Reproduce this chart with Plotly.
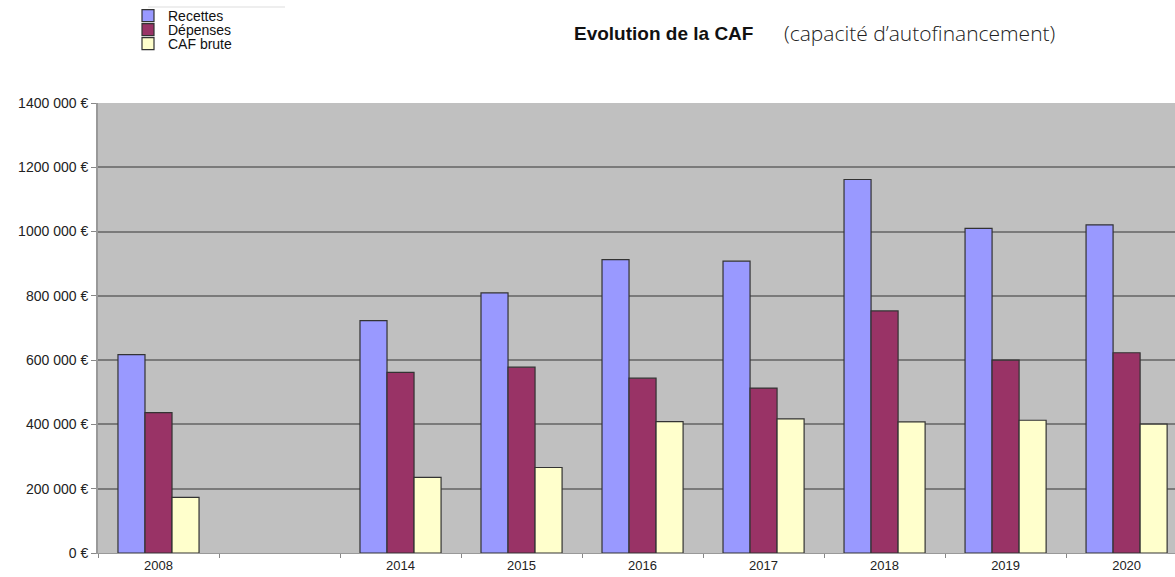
import plotly.graph_objects as go

years = ["2008", " ", "2014", "2015", "2016", "2017", "2018", "2019", "2020"]
recettes = [617000, None, 723000, 809000, 913000, 908000, 1162000, 1010000, 1021000]
depenses = [437000, None, 562000, 578000, 544000, 513000, 753000, 600000, 623000]
caf_brute = [173000, None, 235000, 266000, 409000, 417000, 408000, 413000, 401000]

y_tickvals = [0, 200000, 400000, 600000, 800000, 1000000, 1200000, 1400000]
y_ticktext = ["0 €", "200 000 €", "400 000 €", "600 000 €", "800 000 €",
              "1000 000 €", "1200 000 €", "1400 000 €"]

series_names = ["Recettes", "Dépenses", "CAF brute"]
series_colors = ["#9999FF", "#993366", "#FFFFCC"]

fig = go.Figure()
for i, (name, vals, col) in enumerate(zip(series_names, [recettes, depenses, caf_brute], series_colors)):
    fig.add_trace(go.Bar(
        x=years, y=vals, name=name, showlegend=True,
        marker=dict(color=col, line=dict(color="#333333", width=1.2)),
        legend="legend" if i == 0 else f"legend{i+1}",
    ))

W, H = 1175, 577
L, T, B = 98, 103, 24
PW, PH = W - L, H - T - B

legend_common = dict(font=dict(family="Liberation Sans, Arial", size=14, color="#111111"),
                     bgcolor="rgba(0,0,0,0)", itemwidth=30, xanchor="left", yanchor="middle",
                     xref="paper", yref="container", visible=True)
lx = 30 / PW

fig.update_layout(
    width=W, height=H,
    margin=dict(l=L, r=0, t=T, b=B, autoexpand=False),
    paper_bgcolor="white",
    plot_bgcolor="#C0C0C0",
    showlegend=True,
    barmode="group",
    bargap=0.33,
    bargroupgap=0,
    legend=dict(x=lx, y=1 - 16 / H, **legend_common),
    legend2=dict(x=lx, y=1 - 30 / H, **legend_common),
    legend3=dict(x=lx, y=1 - 44 / H, **legend_common),
    xaxis=dict(
        type="category",
        range=[-0.5, 8.4],
        tickson="boundaries",
        ticks="outside", ticklen=4, tickcolor="#888888",
        showline=True, linecolor="#999999", linewidth=1,
        showgrid=False,
        tickfont=dict(family="Liberation Sans, Arial", size=13, color="#222222"),
        fixedrange=True,
    ),
    yaxis=dict(
        range=[0, 1400000],
        tickvals=y_tickvals, ticktext=y_ticktext,
        ticks="outside", ticklen=5, tickcolor="#888888",
        showline=True, linecolor="#999999", linewidth=2,
        showgrid=True, gridcolor="#7A7A7A", gridwidth=1.6,
        zeroline=False,
        tickfont=dict(family="Liberation Sans, Arial", size=14, color="#222222"),
        fixedrange=True,
    ),
)

fig.add_shape(type="line", xref="paper", yref="paper",
              x0=(148 - L) / PW, x1=(285 - L) / PW,
              y0=(H - B - 7) / PH, y1=(H - B - 7) / PH,
              line=dict(color="#DDDDDD", width=1))

fig.add_annotation(text="<b>Evolution de la CAF</b>", xref="paper", yref="paper",
                   x=(572 - L) / PW, y=(H - B - 33) / PH, xanchor="left", yanchor="middle",
                   showarrow=False, font=dict(family="Liberation Sans, Arial", size=19, color="#111111"))
fig.add_annotation(text="(capacité d’autofinancement)", xref="paper", yref="paper",
                   x=(782 - L) / PW, y=(H - B - 33) / PH, xanchor="left", yanchor="middle",
                   showarrow=False, font=dict(family="Open Sans", size=21, color="#222222", weight=300))

fig.write_html("out.html", config={"displayModeBar": False},
               post_script="document.body.style.margin='0';document.body.style.overflow='hidden';")
